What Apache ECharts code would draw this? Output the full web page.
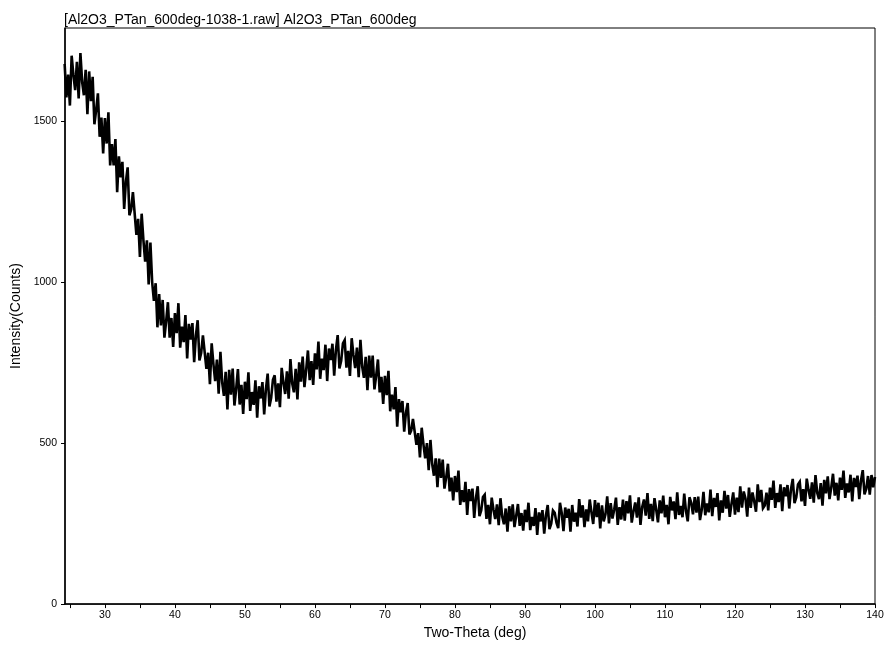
<!DOCTYPE html>
<html>
<head>
<meta charset="utf-8">
<script src="https://cdn.jsdelivr.net/npm/echarts@6/dist/echarts.min.js"></script>
<style>
  html, body { margin: 0; padding: 0; background: #fff; }
  #chart { width: 888px; height: 645px; }
</style>
</head>
<body>
<div id="chart"></div>
<script>
// scan header, as printed above the frame
var scanTitle = '[Al2O3_PTan_600deg-1038-1.raw] Al2O3_PTan_600deg';

// scan grid: first angle and step (deg)
var startAngle = 24.25;
var stepAngle = 0.25;

// intensity (counts), one value per step (24.25 .. 140)
var counts = [
  1678, 1574, 1645,
  1549, 1704, 1644, 1597,  1685, 1571, 1712, 1622,  1581, 1660, 1522, 1655,  1563, 1638, 1491, 1535,  1587, 1452, 1512, 1400,
  1510, 1431, 1528, 1363,  1429, 1363, 1445, 1280,  1391, 1326, 1374, 1228,  1313, 1357, 1208, 1226,  1280, 1274, 1147, 1197,
  1079, 1213, 1131, 1064,  1130, 993, 1123, 1000,
  942, 997, 860, 963,      866, 945, 828, 879,      938, 828, 889, 799,      904, 842, 935, 797,      862, 814, 898, 763,
  871, 822, 873, 752,      835, 882, 757, 780,      835, 837, 731, 781,      683, 810, 746, 693,      760, 654, 784, 689,
  647, 722, 605, 728,      651, 732, 617, 669,      730, 620, 681, 591,
  691, 637, 720, 600,      659, 619, 695, 579,      677, 639, 690, 589,      668, 716, 614, 641,      697, 711, 629, 686,
  612, 734, 689, 653,      723, 638, 761, 686,      658, 731, 636, 751,      691, 769, 674, 728,      788, 696, 755, 681,
  779, 729, 816, 700,      763, 727, 806, 693,      794, 758, 809, 710,      790, 836, 732, 756,      810, 820, 735, 787,
  709, 826, 774, 733,      797, 705, 821, 738,      703, 768, 665, 772,      704, 772, 667, 710,      760, 658, 706, 622,
  709, 649, 725, 599,      651, 605, 674, 551,
  637, 596, 631, 536,      595, 625, 527, 539,      575, 575, 495, 531,      456, 548, 496, 453,      500, 416, 510, 435,
  399, 453, 363, 452,      392, 449, 359, 394,      436, 350, 393, 322,      398, 348, 415, 308,      354, 317, 380, 277,
  357, 320, 359, 268,      330, 366, 273, 291,      333, 340, 265, 308,
  248, 331, 294, 264,      310, 245, 329, 272,      248, 297, 225, 304,      257, 310, 239, 275,      311, 243, 283, 228,
  293, 255, 315, 230,      271, 243, 298, 215,      285, 257, 292, 219,      276, 308, 233, 250,      291, 284, 253, 236,
  315, 283, 227, 300,      268, 296, 225, 308,      256, 284, 241, 326,      269, 307, 239, 294,      257, 325, 285, 249,
  323, 270, 315, 235,      307, 257, 279, 335,      251, 314, 266, 294,      331, 246, 301, 263,      325, 259, 320, 282,
  338, 253, 288, 316,      269, 332, 246, 302,      325, 275, 345, 265,      311, 258, 329, 293,      254, 322, 282, 337,
  270, 308, 248, 333,      291, 319, 264, 347,      277, 305, 270, 343,      289, 257, 332, 315,      279, 332, 284, 334,
  261, 293, 349, 276,      313, 285, 356, 273,      330, 302, 345, 260,      322, 284, 352, 297,      339, 271, 311, 347,
  278, 331, 286, 366,      300, 350, 328, 272,      362, 299, 347, 319,      287, 372, 317, 355,      298, 306, 346, 291,
  362, 324, 384, 299,      345, 317, 372, 289,      363, 335, 370, 297,      357, 389, 314, 331,      372, 380, 319, 357,
  305, 390, 355, 327,      378, 315, 401, 345,      326, 376, 306, 386,      344, 397, 326, 362,      405, 337, 377, 322,
  393, 355, 415, 330,      375, 347, 402, 319,      392, 364, 399, 326,      384, 416, 341, 358,      398, 340, 401, 363,
  395
];

// tick positions and labels
var xTicks = [25, 30, 35, 40, 45, 50, 55, 60, 65, 70, 75, 80, 85, 90, 95, 100, 105, 110, 115, 120, 125, 130, 135, 140];
var xLabels = [30, 40, 50, 60, 70, 80, 90, 100, 110, 120, 130, 140];
var yTicks = [0, 500, 1000, 1500];

var points = counts.map(function (c, i) {
  return [startAngle + i * stepAngle, c];
});

var font = 'Liberation Sans, Arial, sans-serif';

var chart = echarts.init(document.getElementById('chart'));
chart.setOption({
  animation: false,
  backgroundColor: '#fff',
  textStyle: { fontFamily: font, color: '#000' },
  title: {
    text: scanTitle,
    left: 64,
    top: 13,
    padding: 0,
    textStyle: { fontSize: 14, fontWeight: 'normal', color: '#000', fontFamily: font }
  },
  grid: {
    left: 65, right: 13, top: 28, bottom: 37,
    show: true, borderColor: '#000', borderWidth: 1, backgroundColor: 'transparent'
  },
  xAxis: {
    type: 'value',
    min: 24.3,
    max: 140,
    name: 'Two-Theta (deg)',
    nameLocation: 'middle',
    nameGap: 16,
    nameTextStyle: { fontSize: 14, color: '#000', padding: [0, 0, 0, 10] },
    axisLine: { lineStyle: { color: '#000', width: 1.5 } },
    axisTick: { show: true, length: 4, customValues: xTicks, lineStyle: { color: '#000' } },
    axisLabel: { customValues: xLabels, fontSize: 10.5, color: '#000', margin: 6 },
    splitLine: { show: false }
  },
  yAxis: {
    type: 'value',
    min: 0,
    max: 1790,
    name: 'Intensity(Counts)',
    nameLocation: 'middle',
    nameGap: 32,
    nameTextStyle: { fontSize: 14, color: '#000' },
    axisLine: { show: true, lineStyle: { color: '#000', width: 1.5 } },
    axisTick: { show: true, length: 4, customValues: yTicks, lineStyle: { color: '#000' } },
    axisLabel: {
      customValues: yTicks, fontSize: 10.5, color: '#000', margin: 8,
      formatter: function (v) { return String(v); }
    },
    splitLine: { show: false }
  },
  series: [{
    type: 'line',
    data: points,
    showSymbol: false,
    lineStyle: { color: '#000', width: 2.6, join: 'miter', miterLimit: 4 },
    clip: true
  }]
});
</script>
</body>
</html>
